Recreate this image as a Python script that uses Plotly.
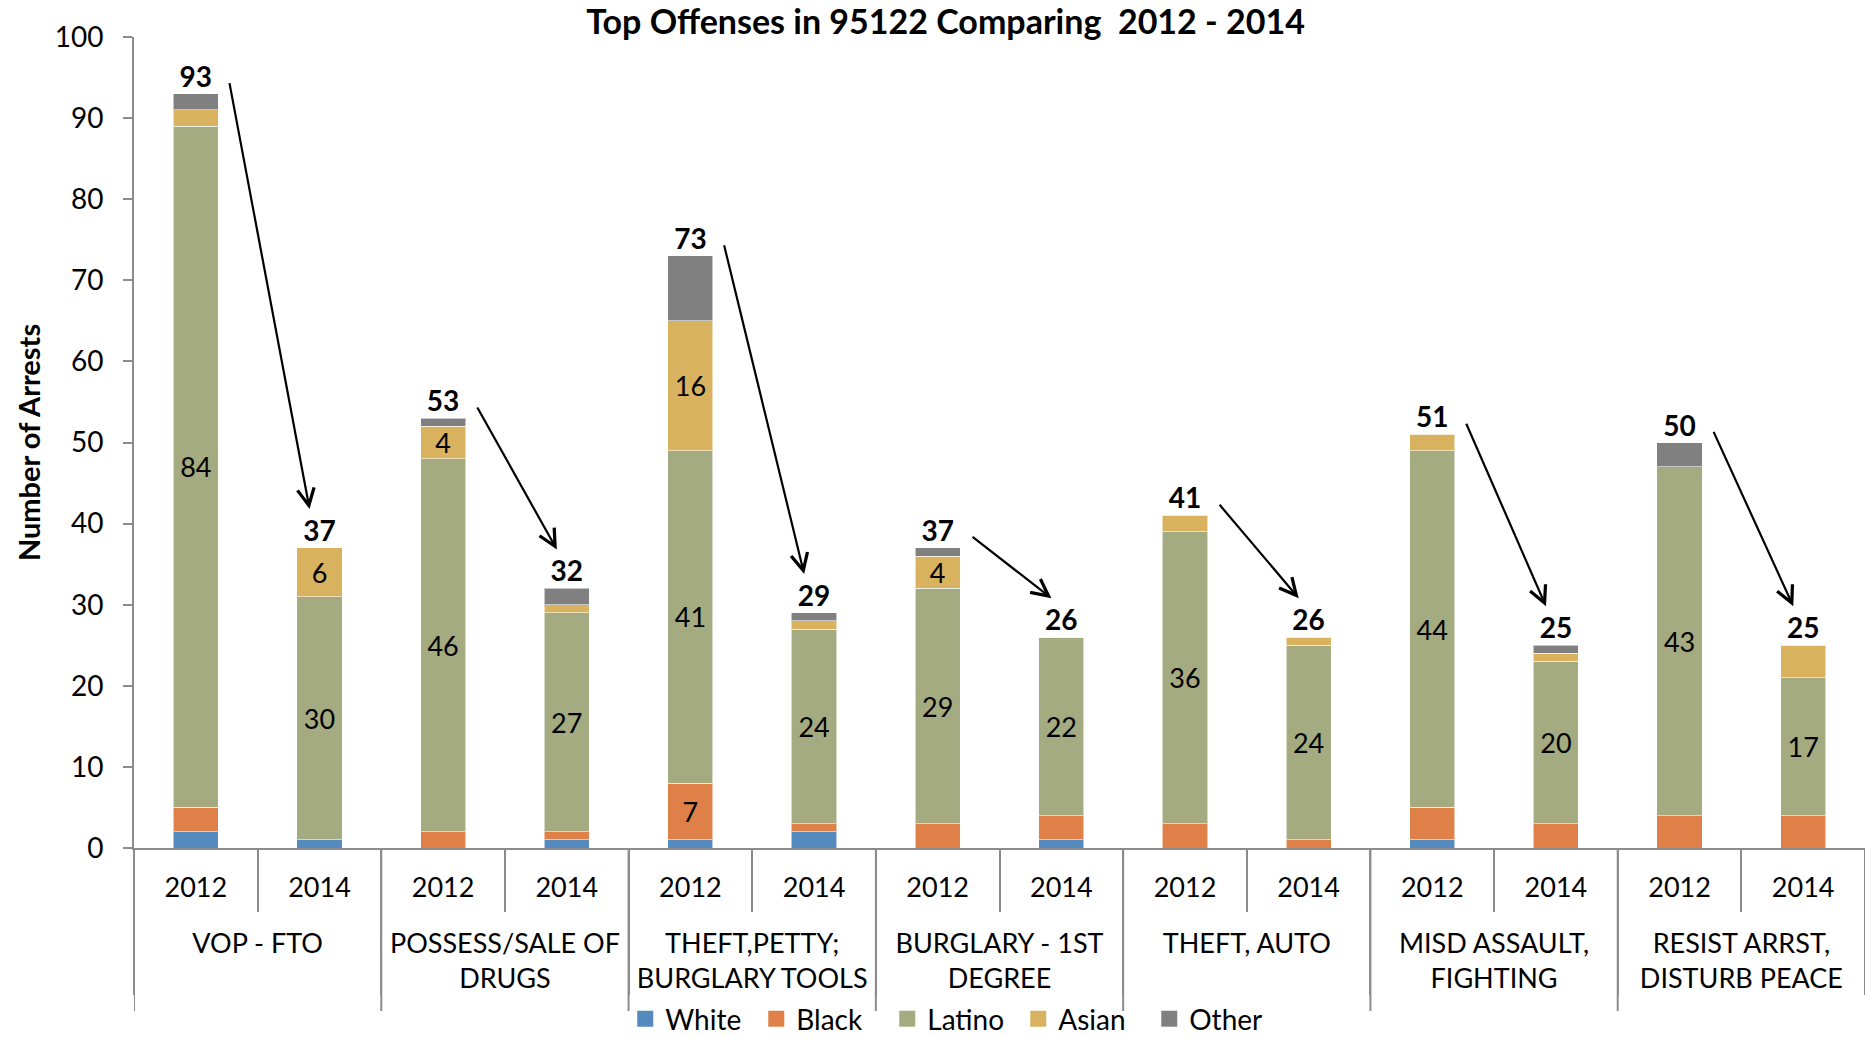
import plotly.graph_objects as go

offenses = ["VOP - FTO", "POSSESS/SALE OF<br>DRUGS", "THEFT,PETTY;<br>BURGLARY TOOLS",
            "BURGLARY - 1ST<br>DEGREE", "THEFT, AUTO", "MISD ASSAULT,<br>FIGHTING",
            "RESIST ARRST,<br>DISTURB PEACE"]
years = ["2012", "2014"]

# values per bar, order: (offense0,2012),(offense0,2014),(offense1,2012),...
white  = [2, 1, 0, 1, 1, 2, 0, 1, 0, 0, 1, 0, 0, 0]
black  = [3, 0, 2, 1, 7, 1, 3, 3, 3, 1, 4, 3, 4, 4]
latino = [84, 30, 46, 27, 41, 24, 29, 22, 36, 24, 44, 20, 43, 17]
asian  = [2, 6, 4, 1, 16, 1, 4, 0, 2, 1, 2, 1, 0, 4]
other  = [2, 0, 1, 2, 8, 1, 1, 0, 0, 0, 0, 1, 3, 0]

# which segments carry a value label in the original
latino_show = [1] * 14
asian_show  = [0, 1, 1, 0, 1, 0, 1, 0, 0, 0, 0, 0, 0, 0]
black_show  = [0, 0, 0, 0, 1, 0, 0, 0, 0, 0, 0, 0, 0, 0]
white_show  = [0] * 14
other_show  = [0] * 14

series = [
    ("White", white, white_show, "#548ABD"),
    ("Black", black, black_show, "#DE8048"),
    ("Latino", latino, latino_show, "#A4AB81"),
    ("Asian", asian, asian_show, "#D9B25F"),
    ("Other", other, other_show, "#808080"),
]

x_outer = ["<br>" + o for o in offenses for _ in years]
x_inner = [y for _ in offenses for y in years]
totals = [sum(v) for v in zip(white, black, latino, asian, other)]
n_bars = len(x_inner)

FONT = "Lato, 'Open Sans', sans-serif"
AXIS_GREY = "#8C8C8C"

fig = go.Figure()
for name, vals, show, color in series:
    fig.add_trace(go.Bar(
        name=name, x=[x_outer, x_inner], y=vals, legendgroup=name, showlegend=False,
        marker=dict(color=color, line=dict(color="rgba(255,255,255,0.55)", width=1)),
        text=[str(v) if s else "" for v, s in zip(vals, show)],
        textposition="inside", insidetextanchor="middle", textangle=0,
        textfont=dict(family=FONT, size=27, color="black"),
        constraintext="none",
        hoverinfo="name+y",
    ))
# legend entries with larger square swatches (Excel style)
for name, vals, show, color in series:
    fig.add_trace(go.Scatter(
        name=name, x=[None], y=[None], mode="markers", legendgroup=name,
        marker=dict(symbol="square", size=16, color=color),
        showlegend=True, hoverinfo="skip",
    ))

fig.add_trace(go.Scatter(
    x=[x_outer, x_inner], y=totals, mode="text",
    text=[f"<b>{t}</b>" for t in totals], textposition="top center",
    textfont=dict(family=FONT, size=28, color="black"),
    showlegend=False, hoverinfo="skip", cliponaxis=False,
))

annotations = []
shapes = []
for k in range(len(offenses)):
    i0, i1 = 2 * k, 2 * k + 1
    annotations.append(dict(
        x=i1 - 0.08, y=totals[i1] + 4.8, xref="x", yref="y",
        ax=i0 + 0.27, ay=totals[i0] + 1.5, axref="x", ayref="y",
        showarrow=True, arrowhead=5, arrowsize=1.5, arrowwidth=2.2,
        arrowcolor="black", text="", standoff=0, startstandoff=0,
    ))
    # group divider reaching below the two-line group labels (Excel style)
    shapes.append(dict(
        type="line", xref="x", yref="paper", ysizemode="pixel", yanchor=0,
        x0=i0 - 0.5, x1=i0 - 0.5, y0=0, y1=-163,
        line=dict(color=AXIS_GREY, width=2), layer="above",
    ))

fig.update_layout(
    barmode="stack",
    bargap=0.635,
    width=1865, height=1038,
    margin=dict(l=134, r=0, t=37, b=190),
    paper_bgcolor="white", plot_bgcolor="white",
    font=dict(family=FONT, color="black"),
    title=dict(text="<b>Top Offenses in 95122 Comparing  2012 - 2014</b>",
               x=0.507, xanchor="center", y=0.979, yanchor="middle",
               font=dict(family=FONT, size=34, color="black")),
    showlegend=True,
    legend=dict(orientation="h", x=0.473, xanchor="center",
                yref="container", y=1 - 1019 / 1038, yanchor="middle",
                font=dict(family=FONT, size=28, color="black"),
                itemwidth=30, entrywidth=86, traceorder="normal",
                bgcolor="rgba(0,0,0,0)"),
    annotations=annotations,
    shapes=shapes,
    xaxis=dict(
        type="multicategory", automargin=False, range=[-0.5, n_bars - 0.5],
        showline=True, linecolor=AXIS_GREY, linewidth=2,
        ticks="outside", tickson="boundaries", ticklen=62, tickwidth=2, tickcolor=AXIS_GREY,
        ticklabelstandoff=15,
        showdividers=True, dividercolor=AXIS_GREY, dividerwidth=2,
        tickfont=dict(family=FONT, size=27, color="black"),
        showgrid=False, zeroline=False,
    ),
    yaxis=dict(
        automargin=False,
        range=[0, 100], dtick=10, tick0=0, showline=True, linecolor=AXIS_GREY, linewidth=2,
        ticks="outside", ticklen=9, tickwidth=2, tickcolor=AXIS_GREY,
        showgrid=False, zeroline=False,
        tickfont=dict(family=FONT, size=28, color="black"),
        ticklabelstandoff=14,
        title=dict(text="<b>Number of Arrests</b>", standoff=6,
                   font=dict(family=FONT, size=29, color="black")),
    ),
)

fig.write_html(
    "out.html",
    config={"displayModeBar": False},
    post_script="document.body.style.margin='0';document.body.style.overflow='hidden';",
)
